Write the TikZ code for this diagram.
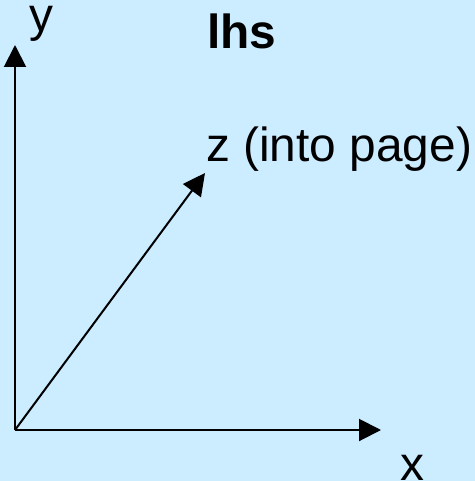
\documentclass[tikz,border=0pt]{standalone}
\usepackage{fontspec}
\setmainfont{Liberation Sans}
\usepackage{xcolor}
\usetikzlibrary{arrows.meta,calc,positioning}
\definecolor{paneblue}{RGB}{204,236,255}

\begin{document}
\begin{tikzpicture}[
    x=1bp, y=-1bp,
    font=\fontsize{48}{58}\selectfont,
    axis/.style={-{Triangle[length=22bp,width=22bp]}, line width=2bp},
    lbl/.style={inner sep=0pt, anchor=base west}
]
    \fill[paneblue] (0,0) rectangle (475,481);
    \useasboundingbox (0,0) rectangle (475,481);
    \coordinate (origin) at (15,430);
    \coordinate (ytip) at (15,45);
    \coordinate (xtip) at (381,430);
    \coordinate (ztip) at (205,173);
    \draw[axis] (origin) -- (ytip);
    \draw[axis] (origin) -- (xtip);
    \draw[axis] (origin) -- (ztip);
    \node[lbl] (ylab) at (29,32) {y};
    \node[lbl, font=\fontsize{48}{58}\selectfont\bfseries] (title) at (207,49) {lhs};
    \node[lbl] (zlab) at (206,162) {z (into page)};
    \node[lbl] (xlab) at (400,480) {x};
\end{tikzpicture}
\end{document}
